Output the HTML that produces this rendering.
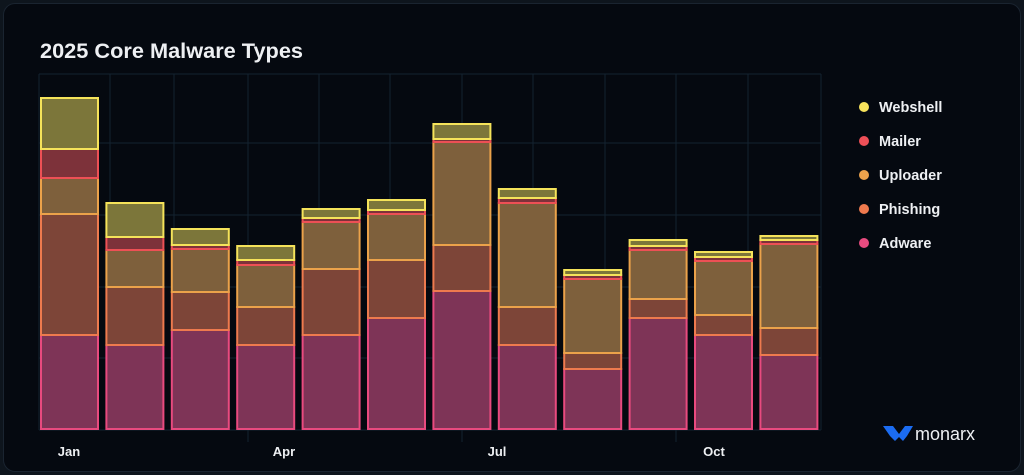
<!DOCTYPE html><html><head><style>
html,body{margin:0;padding:0;background:#0e151d;width:1024px;height:475px;overflow:hidden}
.card{position:absolute;left:3px;top:3px;width:1016px;height:467px;background:#050910;border:1px solid #1a2430;border-radius:12px}
svg{position:absolute;left:0;top:0}
text{font-family:"Liberation Sans",sans-serif;font-weight:bold;fill:#eef0f3}
</style></head><body><div class="card"></div>
<svg width="1024" height="475" xmlns="http://www.w3.org/2000/svg">
<text x="40" y="58" font-size="21" textLength="263" lengthAdjust="spacingAndGlyphs">2025 Core Malware Types</text>
<g stroke="#142230" stroke-width="1">
<line x1="39" y1="74" x2="821" y2="74"/><line x1="39" y1="143" x2="821" y2="143"/><line x1="39" y1="215" x2="821" y2="215"/><line x1="39" y1="287" x2="821" y2="287"/><line x1="39" y1="358" x2="821" y2="358"/><line x1="39" y1="430" x2="821" y2="430"/>
<line x1="39" y1="74" x2="39" y2="430"/><line x1="110" y1="74" x2="110" y2="430"/><line x1="174" y1="74" x2="174" y2="430"/><line x1="248" y1="74" x2="248" y2="442"/><line x1="319" y1="74" x2="319" y2="430"/><line x1="390" y1="74" x2="390" y2="430"/><line x1="462" y1="74" x2="462" y2="442"/><line x1="533" y1="74" x2="533" y2="430"/><line x1="605" y1="74" x2="605" y2="430"/><line x1="676" y1="74" x2="676" y2="442"/><line x1="748" y1="74" x2="748" y2="430"/><line x1="821" y1="74" x2="821" y2="430"/>
</g>
<g id="bars" stroke-width="2"></g>
<text x="69" y="456" font-size="13" text-anchor="middle">Jan</text>
<text x="284" y="456" font-size="13" text-anchor="middle">Apr</text>
<text x="497" y="456" font-size="13" text-anchor="middle">Jul</text>
<text x="714" y="456" font-size="13" text-anchor="middle">Oct</text>
<g font-size="14.5">
<circle cx="864" cy="107" r="5" fill="#f8e45c"/><text x="879" y="112">Webshell</text>
<circle cx="864" cy="141" r="5" fill="#ee4f57"/><text x="879" y="146">Mailer</text>
<circle cx="864" cy="175" r="5" fill="#eda34c"/><text x="879" y="180">Uploader</text>
<circle cx="864" cy="209" r="5" fill="#ef7a4e"/><text x="879" y="214">Phishing</text>
<circle cx="864" cy="243" r="5" fill="#e84b80"/><text x="879" y="248">Adware</text>
</g>
<path d="M883 426 L893 426 L899 434 L905 426 L913 426 L907 436 L903 441 L899 437 L895 441 L890 436 Z" fill="#1b6cf2"/>
<text x="915" y="440" font-size="18" style="font-weight:normal">monarx</text>
</svg>
<script>
const d=[[335,214,178,149,98],[345,287,250,237,203],[330,292,249,245,229],[345,307,265,260,246],[335,269,222,218,209],[318,260,214,210,200],[291,245,142,139,124],[345,307,203,198,189],[369,353,279,275,270],[318,299,250,246,240],[335,315,261,257,252],[355,328,244,240,236]];
const f=["#7e3457","#7d4538","#7e603c","#7d323a","#7c763a"],s=["#e84a7f","#ee7a4e","#eba24a","#ed5055","#f5e35a"];
let h="";d.forEach((r,i)=>{const x=41+65.4*i;let b=429;r.forEach((t,j)=>{h+=`<rect x="${x}" y="${t}" width="57" height="${b-t}" fill="${f[j]}" stroke="${s[j]}"/>`;b=t;});});
document.getElementById("bars").innerHTML=h;
</script>
</body></html>
